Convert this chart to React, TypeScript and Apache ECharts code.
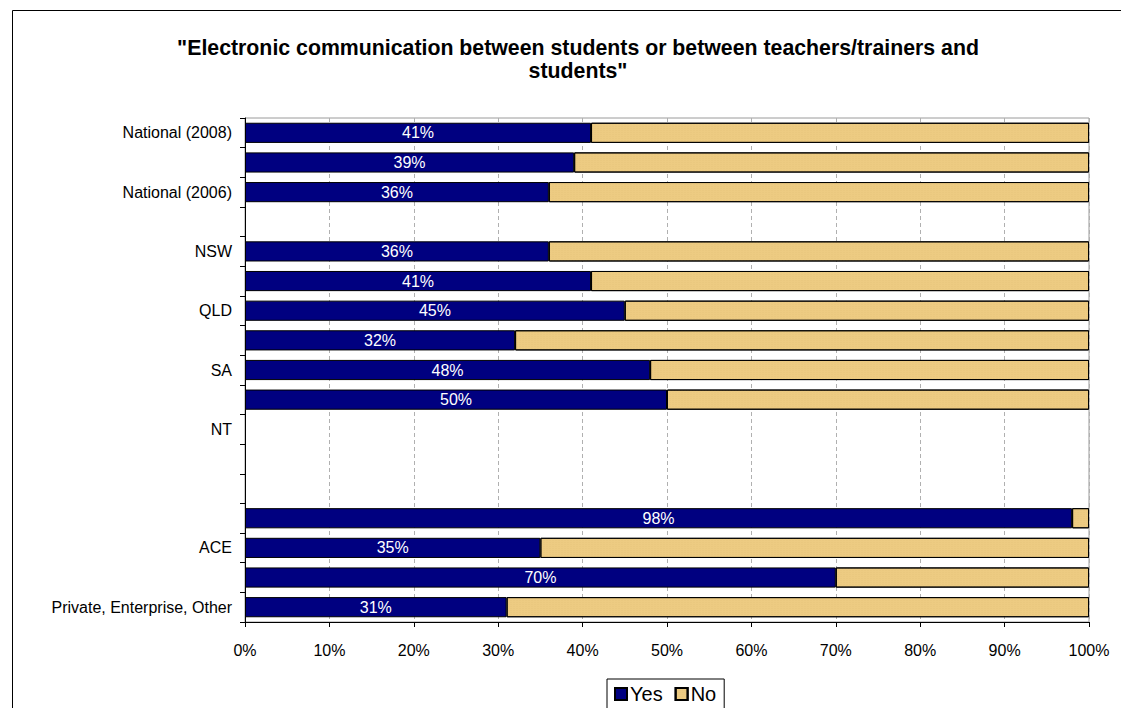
import React, { useEffect, useRef } from "react";
import * as echarts from "echarts";

const titleLines = [
  '"Electronic communication between students or between teachers/trainers and',
  'students"',
];
const categories = [
  "National (2008)",
  "National (2007)",
  "National (2006)",
  "",
  "NSW",
  "VIC",
  "QLD",
  "WA",
  "SA",
  "TAS",
  "NT",
  "ACT",
  " ",
  "TAFE",
  "ACE",
  "University",
  "Private, Enterprise, Other",
];
const yesValues: (number | null)[] = [41, 39, 36, null, 36, 41, 45, 32, 48, 50, null, null, null, 98, 35, 70, 31];
const noValues: (number | null)[] = [59, 61, 64, null, 64, 59, 55, 68, 52, 50, null, null, null, 2, 65, 30, 69];
const xTicks = [0, 10, 20, 30, 40, 50, 60, 70, 80, 90, 100];

const FONT = "Liberation Sans, Arial, sans-serif";

export default function App() {
  const ref = useRef<HTMLDivElement>(null);
  useEffect(() => {
    if (!ref.current) return;
    const chart = echarts.init(ref.current, null, { renderer: "svg" });
    chart.setOption({
      animation: false,
      backgroundColor: "#fff",
      textStyle: { fontFamily: FONT },
      title: {
        text: titleLines.join("\n"),
        left: 573,
        top: 31,
        textAlign: "center",
        textStyle: { fontFamily: FONT, fontSize: 21.3, fontWeight: "bold", color: "#000", lineHeight: 23 },
      },
      graphic: [
        {
          type: "rect",
          shape: { x: 12.5, y: 10.5, width: 1200, height: 800 },
          style: { fill: "none", stroke: "#000", lineWidth: 1 },
          silent: true,
          z: -10,
        },
      ],
      legend: {
        left: 607,
        top: 679,
        orient: "horizontal",
        itemWidth: 12,
        itemHeight: 12,
        itemGap: 12,
        padding: [5, 8, 5, 7],
        borderColor: "#000",
        borderWidth: 1,
        icon: "rect",
        textStyle: { fontFamily: FONT, fontSize: 20, color: "#000", padding: [0, 0, 0, -2] },
        data: ["Yes", "No"],
      },
      grid: {
        left: 245,
        right: 32,
        top: 118,
        bottom: 86,
        show: true,
        borderColor: "#9a9a9a",
        borderWidth: 1,
        containLabel: false,
      },
      xAxis: {
        type: "value",
        min: 0,
        max: 100,
        interval: 10,
        axisLine: { show: true, lineStyle: { color: "#000" } },
        axisTick: { show: true, length: 5, lineStyle: { color: "#000" } },
        axisLabel: {
          formatter: (v: number) => (xTicks.includes(v) ? v + "%" : ""),
          fontFamily: FONT,
          fontSize: 16,
          color: "#000",
          margin: 20,
        },
        splitLine: { show: true, lineStyle: { color: "#b0b0b0", type: [4, 3] } },
      },
      yAxis: {
        type: "category",
        inverse: true,
        data: categories,
        axisLine: { show: true, lineStyle: { color: "#000" } },
        axisTick: { show: true, length: 5, interval: 0, lineStyle: { color: "#000" } },
        axisLabel: { interval: 1, fontFamily: FONT, fontSize: 16, color: "#000", margin: 13 },
        splitLine: { show: false },
      },
      series: [
        {
          name: "Yes",
          type: "bar",
          stack: "total",
          data: yesValues,
          barCategoryGap: "32%",
          itemStyle: { color: "#000080", borderColor: "#000", borderWidth: 1 },
          label: {
            show: true,
            position: "inside",
            formatter: "{c}%",
            color: "#fff",
            fontFamily: FONT,
            fontSize: 16,
          },
        },
        {
          name: "No",
          type: "bar",
          stack: "total",
          data: noValues,
          barCategoryGap: "32%",
          itemStyle: {
            color: "#EDCB82",
            borderColor: "#000",
            borderWidth: 1,
            decal: {
              symbol: "rect",
              symbolSize: 0.5,
              dashArrayX: [2, 1],
              dashArrayY: [1, 1],
              color: "rgba(200,170,100,0.35)",
              rotation: 0,
            },
          },
          label: { show: false },
        },
      ],
    });
    return () => chart.dispose();
  }, []);
  return <div ref={ref} style={{ width: 1121, height: 708, position: "absolute", left: 0, top: 0 }} />;
}
